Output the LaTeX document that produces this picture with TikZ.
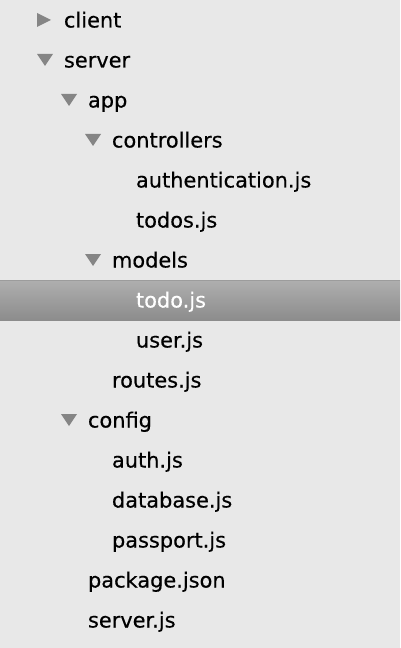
\documentclass[tikz,border=0pt]{standalone}
\usepackage{fontspec}
\setmainfont[FakeBold=0.4]{DejaVu Sans}
\begin{document}
\begin{tikzpicture}[x=1bp,y=-1bp,
  item/.style={anchor=base west,inner sep=0pt,outer sep=0pt,text=black,
    font=\fontsize{20.9bp}{24bp}\selectfont},
  sel/.style={item,text=white},
  tri/.style={fill=tri}]
\definecolor{bg}{HTML}{E8E8E8}
\definecolor{tri}{HTML}{858585}
\definecolor{bartop}{HTML}{AFAFAF}
\definecolor{barbot}{HTML}{8C8C8C}
\definecolor{barline}{HTML}{9C9C9C}
\useasboundingbox (0,0) rectangle (400,648);
\fill[bg] (0,0) rectangle (400,648);
% selection bar
\shade[top color=bartop,bottom color=barbot] (0,280) rectangle (400,320);
\fill[barline] (0,280) rectangle (400,281);
% disclosure triangles
\newcommand{\rtri}[2]{\fill[tri] (#1,#2-7) -- (#1+14,#2) -- (#1,#2+7) -- cycle;}
\newcommand{\dtri}[2]{\fill[tri] (#1,#2-6) -- (#1+16,#2-6) -- (#1+8,#2+6) -- cycle;}
\rtri{37}{20}
\dtri{37}{60}
\dtri{61}{100}
\dtri{85}{140}
\dtri{85}{260}
\dtri{61}{420}
% items
\node[item] (client) at (64,27.5) {client};
\node[item] (server) at (64,67.5) {server};
\node[item] (app) at (88,107.5) {app};
\node[item] (controllers) at (112,147.5) {controllers};
\node[item] (authentication) at (136,187.5) {authentication.js};
\node[item] (todos) at (136,227.5) {todos.js};
\node[item] (models) at (112,267.5) {models};
\node[sel] (todo) at (136,307.5) {todo.js};
\node[item] (user) at (136,347.5) {user.js};
\node[item] (routes) at (112,387.5) {routes.js};
\node[item] (config) at (88,427.5) {config};
\node[item] (auth) at (112,467.5) {auth.js};
\node[item] (database) at (112,507.5) {database.js};
\node[item] (passport) at (112,547.5) {passport.js};
\node[item] (package) at (88,587.5) {package.json};
\node[item] (serverjs) at (88,627.5) {server.js};
\end{tikzpicture}
\end{document}
